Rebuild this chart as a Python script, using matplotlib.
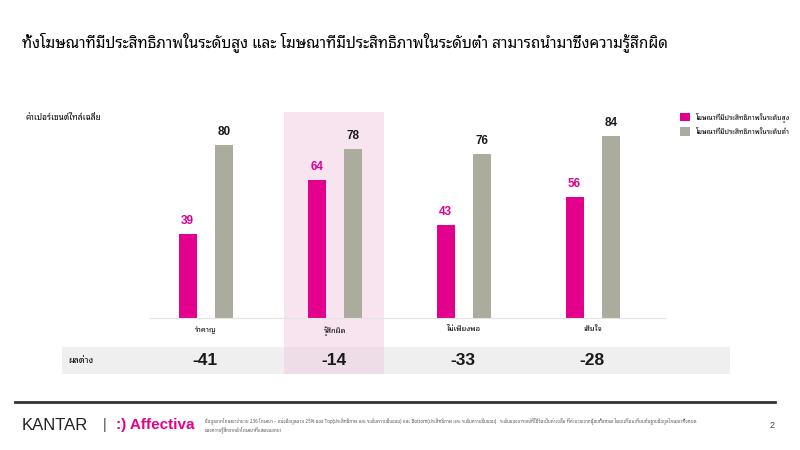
import matplotlib
matplotlib.use("Agg")
import matplotlib.pyplot as plt
import matplotlib.lines
import numpy

THAI = ["Noto Sans Thai Looped", "Liberation Sans", "DejaVu Sans"]
NUM = ["Liberation Sans", "DejaVu Sans"]
plt.rcParams["font.family"] = THAI

TITLE = "ทั้งโฆษณาที่มีประสิทธิภาพในระดับสูง และ โฆษณาที่มีประสิทธิภาพในระดับต่ำ สามารถนำมาซึ่งความรู้สึกผิด"
Y_LABEL = "ค่าเปอร์เซนต์ไทล์เฉลี่ย"
DIFF_LABEL = "ผลต่าง"
categories = ["รำคาญ", "รู้สึกผิด", "ไม่เพียงพอ", "เสียใจ"]
series_names = ["โฆษณาที่มีประสิทธิภาพในระดับสูง", "โฆษณาที่มีประสิทธิภาพในระดับต่ำ"]
high_ads = [39, 64, 43, 56]
low_ads = [80, 78, 76, 84]
highlight_index = 1
FOOTNOTE = (
    "ข้อมูลจากโฆษณาจำนวน 236 โฆษณา – แบ่งข้อมูลตาม 25% ของ Top(ประสิทธิภาพ และ ระดับความชื่นชอบ) "
    "และ Bottom(ประสิทธิภาพ และ ระดับความชื่นชอบ)   ระดับของอารมณ์ที่ใช้วัดเป็นค่าเฉลี่ย ที่คำนวณจากผู้ชมทั้งหมด "
    "โดยเปรียบเทียบกับฐานข้อมูลโฆษณาทั้งหมด\nของความรู้สึกจากตัวโฆษณาที่แสดงออกมา"
)
PAGE = "2"

PINK = "#E3008C"
GREY = "#ABAB9E"
HILITE = "#F7E4EF"
BAND = "#EFEFEF"

W, H = 800, 450
fig = plt.figure(figsize=(8, 4.5), dpi=100)


def px_box(left, top, right, bottom):
    return [left / W, 1 - bottom / H, (right - left) / W, (bottom - top) / H]


# x mapping: category i centre at 205 + 129 * i pixels
X0, XS = 205.0, 129.0


def xlim_for(left, right):
    return ((left - X0) / XS, (right - X0) / XS)


x = numpy.arange(len(categories))
diffs = numpy.array(high_ads) - numpy.array(low_ads)

# difference row
band = fig.add_axes(px_box(62, 347, 730, 374))
band.set_facecolor(BAND)
band.set_xlim(*xlim_for(62, 730))
band.set_ylim(0, 1)
band.axvspan(highlight_index - 0.39, highlight_index + 0.39, color=PINK, alpha=0.08, lw=0)
for s in band.spines.values():
    s.set_visible(False)
band.set_xticks([])
band.set_yticks([])
for xi, d in zip(x, diffs):
    band.text(xi, 0.5, f"{d}", ha="center", va="center", fontsize=12.5,
              fontweight="bold", family=NUM, color="#1a1a1a")
band.text(0.01, 0.5, DIFF_LABEL, transform=band.transAxes,
          ha="left", va="center", fontsize=6.5)

# bars
ax = fig.add_axes(px_box(150, 112, 665, 318))
ax.set_xlim(*xlim_for(150, 665))
ax.set_ylim(0, 206 / 2.1625)
ax.set_zorder(band.get_zorder() - 1)
ax.patch.set_visible(False)
hl = ax.axvspan(highlight_index - 0.39, highlight_index + 0.39, ymin=-0.272, ymax=1,
                color=HILITE, lw=0, zorder=0)
hl.set_clip_on(False)
bw = 0.14
b1 = ax.bar(x - 0.135, high_ads, bw, color=PINK, zorder=2, label=series_names[0])
b2 = ax.bar(x + 0.145, low_ads, bw, color=GREY, zorder=2, label=series_names[1])
for rect, v in zip(b1, high_ads):
    ax.annotate(f"{v}", (rect.get_x() + rect.get_width() / 2, v), xytext=(0, 5),
                textcoords="offset points", ha="center", va="bottom", fontsize=8.5,
                fontweight="bold", family=NUM, color=PINK)
for rect, v in zip(b2, low_ads):
    ax.annotate(f"{v}", (rect.get_x() + rect.get_width() / 2, v), xytext=(0, 5),
                textcoords="offset points", ha="center", va="bottom", fontsize=8.5,
                fontweight="bold", family=NUM, color="#1a1a1a")
for name, s in ax.spines.items():
    s.set_visible(name == "bottom")
ax.spines["bottom"].set_color("#E4E4E4")
ax.spines["bottom"].set_linewidth(0.8)
ax.set_yticks([])
ax.set_xticks(x + 0.005)
ax.set_xticklabels(categories, fontsize=5.5)
ax.tick_params(axis="x", length=0, pad=6)

fig.legend(handles=[b1, b2], labels=series_names, loc="upper left",
           bbox_to_anchor=(674 / W, 1 - 106 / H), frameon=False, fontsize=5,
           handlelength=1.4, handleheight=1.4, handletextpad=0.9, labelspacing=0.8)

fig.text(22 / W, 1 - 42 / H, TITLE, fontsize=11, fontweight="bold", va="center", ha="left")
fig.text(25 / W, 1 - 117 / H, Y_LABEL, fontsize=6, va="center", ha="left")

# footer
fig.add_artist(matplotlib.lines.Line2D([15 / W, 775 / W], [1 - 402 / H] * 2, color="#333333", lw=2))
fig.text(22 / W, 1 - 425 / H, "KANTAR", fontsize=12, family=NUM, va="center", color="#222222")
fig.text(103 / W, 1 - 425 / H, "|", fontsize=10, family=NUM, va="center", color="#444444")
fig.text(116 / W, 1 - 425 / H, ":) Affectiva", fontsize=11, family=NUM, fontweight="bold",
         va="center", color=PINK)
fig.text(205 / W, 1 - 417 / H, FOOTNOTE, fontsize=3.3, va="top", ha="left", color="#555555",
         linespacing=1.6)
fig.text(775 / W, 1 - 425 / H, PAGE, fontsize=6.5, family=NUM, va="center", ha="right", color="#444444")

fig.savefig("out.png", dpi=100)
